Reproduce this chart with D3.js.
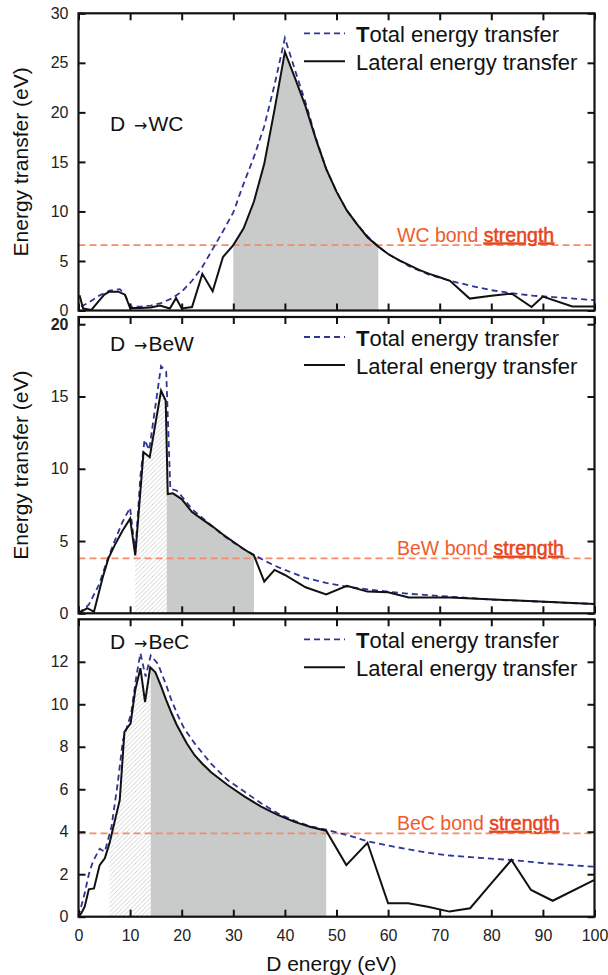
<!DOCTYPE html>
<html><head><meta charset="utf-8">
<script src="https://cdn.jsdelivr.net/npm/d3@7"></script>
<style>
body{margin:0;background:#fff}
svg{display:block}
text{font-family:"Liberation Sans",Arial,Helvetica,sans-serif}
</style>
</head><body>
<svg id="c" width="608" height="975"></svg>
<script>
// ---------- data ----------
const xTickValues = [0,10,20,30,40,50,60,70,80,90,100];
const panelNames = ["WC","BeW","BeC"];
const yTicksWC  = [0,5,10,15,20,25,30];
const yTicksBeW = [0,5,10,15,20];
const yTicksBeC = [0,2,4,6,8,10,12];
const yMaxes = [30, 20.5, 14];
const bondStrength = [6.6, 3.8, 3.92];
const hatchRanges = [null, [11,17.1], [6,14]];
const grayRanges  = [[30,58.1], [17.1,34], [14,48]];
const legendLabels = ["Total energy transfer","Lateral energy transfer"];

const wcTotalE = [0.5,2,4,6,8,9,10,12,14,16,18,20,22,24,26,28,30,32,34,36,38,40,42,44,46,48,50,52,54,56,58,60,64,68,72,76,80,84,88,92,96,100];
const wcTotal  = [0.4,0.8,1.5,2.0,2.15,1.6,0.4,0.4,0.5,0.75,1.2,1.9,3.0,4.4,6.2,8.0,9.9,12.8,15.5,18.6,22.8,27.5,24.2,21.0,17.4,14.3,12.0,10.1,8.7,7.5,6.5,5.7,4.5,3.6,3.0,2.5,2.05,1.75,1.5,1.35,1.2,1.05];
const wcLatE = [0.2,0.9,2.5,4,5,6,7.7,9,10,12,14,15.8,17.7,18.9,20,22,24,26,28,30,32,34,36,38,40,42,44,46,48,50,52,54,56,58,60,62,64,66,68,70,72,75.8,80,84,87.8,90,95.7,100];
const wcLat  = [1.55,0.2,0.05,1.0,1.6,1.9,1.9,1.6,0.25,0.25,0.3,0.5,0.2,1.25,0.2,0.35,3.7,1.95,5.4,6.6,8.3,11.0,14.8,20.3,26.1,23.4,20.6,17.3,14.3,12.0,10.1,8.7,7.4,6.5,5.7,5.1,4.6,4.1,3.7,3.35,3.0,1.2,1.5,1.7,0.35,1.4,0.4,0.4];

const bewTotalE = [0,2,4,5.5,7,8.5,10,11,12,12.8,13.7,16,17,17.8,19,20,22,24,26,28,30,32,34,36,38,40,44,48,52,56,60,64,68,72,76,80,90,100];
const bewTotal  = [0,0.6,2.0,3.6,5.0,6.3,7.3,4.2,9.5,12.0,11.3,17.1,16.7,8.6,8.5,8.1,7.2,6.6,6.0,5.4,4.9,4.45,4.05,3.65,3.3,3.0,2.45,2.1,1.85,1.65,1.5,1.35,1.25,1.15,1.05,0.95,0.8,0.64];
const bewLatE = [0,1.7,3,4.7,5.8,7,8.5,10,11,12.6,13.8,16,16.9,17.3,18.3,20,22,24,26,28,30,32,34,36,38,40,44,48,52,56,60,64,72,84,100];
const bewLat  = [0,0.35,0.1,2.5,3.8,4.7,5.7,6.55,4.0,11.15,10.8,15.4,14.7,8.25,8.3,7.9,7.0,6.5,6.0,5.45,4.95,4.45,4.0,2.2,3.0,2.65,1.8,1.3,1.9,1.5,1.45,1.1,1.1,0.9,0.64];

const becTotalE = [0,1.2,2,2.8,4.1,5.1,6.4,7.6,8.6,10.2,11.2,12,13,14,15.4,17,18,19.3,20.5,22.5,25.7,28.9,32.2,35.4,38.6,42,45,48,52,56,60,64,68,72,76,80,84,90,100];
const becTotal  = [0,1.1,2.0,2.6,3.2,3.06,4.24,6.28,8.3,9.57,11.3,12.4,11.3,12.3,11.9,10.9,10.2,9.45,8.85,8.16,7.2,6.43,5.88,5.34,4.87,4.5,4.25,4.1,3.85,3.55,3.35,3.17,3.0,2.88,2.8,2.73,2.67,2.52,2.35];
const becLatE = [0,0.55,1.2,2,3,4.1,5.1,6,8,8.9,10.1,11,12,12.9,13.9,14.9,16,17,18,19,20,21,22.5,24,25.7,28.9,32.2,35.4,38.6,42,45,48,51.9,56,60,63.9,67.7,71.9,75.9,80,83.9,87.7,91.9,100];
const becLat  = [0,0.16,0.47,1.29,1.33,2.43,2.75,3.45,5.5,8.7,9.1,10.67,11.7,10.1,11.74,11.5,10.85,10.2,9.6,9.05,8.6,8.15,7.6,7.2,6.8,6.2,5.65,5.18,4.79,4.45,4.22,4.05,2.43,3.48,0.63,0.63,0.47,0.24,0.4,1.57,2.67,1.26,0.75,1.73];

const totals   = [[wcTotalE,wcTotal],[bewTotalE,bewTotal],[becTotalE,becTotal]];
const laterals = [[wcLatE,wcLat],[bewLatE,bewLat],[becLatE,becLat]];
const yTickSets = [yTicksWC, yTicksBeW, yTicksBeC];

// ---------- layout ----------
const svg = d3.select("#c");
const X0 = 78.5, X1 = 594.5;
const frames = [[13.3,310.5],[317,613.3],[619.3,916.7]];
const x = d3.scaleLinear().domain([0,100]).range([X0,X1]);
const FONT = '"Liberation Sans",Arial,Helvetica,sans-serif';
const BOND_COLOR = "#f58b6c", BOND_TEXT = "#f15a2b", BLUE = "#2e3594";

const defs = svg.append("defs");
const pat = defs.append("pattern").attr("id","hatch").attr("patternUnits","userSpaceOnUse")
  .attr("width",4.5).attr("height",4.5);
pat.append("rect").attr("width",4.5).attr("height",4.5).attr("fill","#fff");
pat.append("path").attr("d","M-1,1 L1,-1 M0,4.5 L4.5,0 M3.5,5.5 L5.5,3.5")
  .attr("stroke","#b4b4b4").attr("stroke-width",0.6);

const zip = (a,b) => a.map((v,i)=>[v,b[i]]);

frames.forEach((fr,i) => {
  const [top,bot] = fr;
  const y = d3.scaleLinear().domain([0,yMaxes[i]]).range([bot,top]);
  const g = svg.append("g");
  const lat = zip(laterals[i][0], laterals[i][1]);
  const tot = zip(totals[i][0], totals[i][1]);

  const area = d3.area().x(d=>x(d[0])).y0(y(0)).y1(d=>y(d[1]));
  const addRegion = (rng, fill, id) => {
    defs.append("clipPath").attr("id",id).append("rect")
      .attr("x",x(rng[0])).attr("y",top).attr("width",x(rng[1])-x(rng[0])).attr("height",bot-top);
    g.append("path").datum(lat).attr("d",area).attr("fill",fill).attr("clip-path",`url(#${id})`);
  };
  if (hatchRanges[i]) addRegion(hatchRanges[i], "url(#hatch)", "ch"+i);
  addRegion(grayRanges[i], "#c9caca", "cg"+i);

  // bond strength line
  g.append("line").attr("x1",X0).attr("x2",X1).attr("y1",y(bondStrength[i])).attr("y2",y(bondStrength[i]))
    .attr("stroke",BOND_COLOR).attr("stroke-width",1.8).attr("stroke-dasharray","7,4");

  const line = d3.line().x(d=>x(d[0])).y(d=>y(d[1]));
  g.append("path").datum(tot).attr("d",line).attr("fill","none")
    .attr("stroke",BLUE).attr("stroke-width",1.8).attr("stroke-dasharray","6,4");
  g.append("path").datum(lat).attr("d",line).attr("fill","none")
    .attr("stroke","#111").attr("stroke-width",2).attr("stroke-linejoin","miter");

  // axes
  const styleAxis = sel => {
    sel.select(".domain").remove();
    sel.selectAll(".tick line").attr("stroke","#111").attr("stroke-width",2);
    sel.selectAll("text").attr("font-family",FONT).attr("font-size",16).attr("fill","#222");
  };
  const ay = svg.append("g").attr("transform",`translate(${X0},0)`)
    .call(d3.axisLeft(y).tickValues(yTickSets[i]).tickSize(-7).tickPadding(10)).call(styleAxis);
  if (i===1) ay.selectAll(".tick text").filter(d=>d===20).attr("font-weight","bold");
  svg.append("g").attr("transform",`translate(${X1},0)`)
    .call(d3.axisRight(y).tickValues(yTickSets[i]).tickSize(-7).tickFormat("")).call(styleAxis);
  svg.append("g").attr("transform",`translate(0,${top})`)
    .call(d3.axisTop(x).tickValues(xTickValues).tickSize(-7).tickFormat("")).call(styleAxis);
  svg.append("g").attr("transform",`translate(0,${bot})`)
    .call(d3.axisBottom(x).tickValues(xTickValues).tickSize(-7).tickPadding(12.5)
      .tickFormat(i===2 ? d3.format("d") : "")).call(styleAxis);

  // frame
  svg.append("rect").attr("x",X0).attr("y",top).attr("width",X1-X0).attr("height",bot-top)
    .attr("fill","none").attr("stroke","#111").attr("stroke-width",2.2);

  // legend
  const lg = svg.append("g");
  lg.append("line").attr("x1",304).attr("x2",345).attr("y1",top+20).attr("y2",top+20)
    .attr("stroke",BLUE).attr("stroke-width",1.8).attr("stroke-dasharray","6,4");
  lg.append("line").attr("x1",304).attr("x2",345).attr("y1",top+48).attr("y2",top+48)
    .attr("stroke","#111").attr("stroke-width",2);
  legendLabels.forEach((lab,k) => {
    const t = lg.append("text").attr("x",356).attr("y",top+29+k*28)
      .attr("font-size",22).attr("fill","#111");
    if (k===0) {
      t.append("tspan").attr("font-weight","bold").text(lab[0]);
      t.append("tspan").text(lab.slice(1));
    } else t.text(lab);
  });

  // panel label
  const lblY = [130.7, 350.7, 649.3][i];
  const pl = svg.append("text").attr("x",110).attr("y",lblY).attr("font-size",21).attr("fill","#111");
  pl.append("tspan").text("D ");
  pl.append("tspan").attr("font-size",16).attr("dx",3).attr("font-family","DejaVu Sans").text("→");
  pl.append("tspan").attr("dx",1).text(panelNames[i]);

  // bond strength text
  const bt = svg.append("text").attr("x",397).attr("y",y(bondStrength[i])-3.5)
    .attr("font-size",19.5).attr("fill",BOND_TEXT);
  bt.append("tspan").text(panelNames[i]+" bond ");
  bt.append("tspan").attr("fill","#e8441a").attr("stroke","#e8441a").attr("stroke-width",0.5)
    .attr("text-decoration","underline").text("strength");

  // y title
  if (i < 2) {
    svg.append("text").attr("transform",`translate(28,${(top+bot)/2}) rotate(-90)`)
      .attr("text-anchor","middle").attr("font-size",21).attr("fill","#111")
      .text("Energy transfer (eV)");
  }
});

svg.append("text").attr("x",331.5).attr("y",971).attr("text-anchor","middle")
  .attr("font-size",21).attr("fill","#111").text("D energy (eV)");
</script>
</body></html>
